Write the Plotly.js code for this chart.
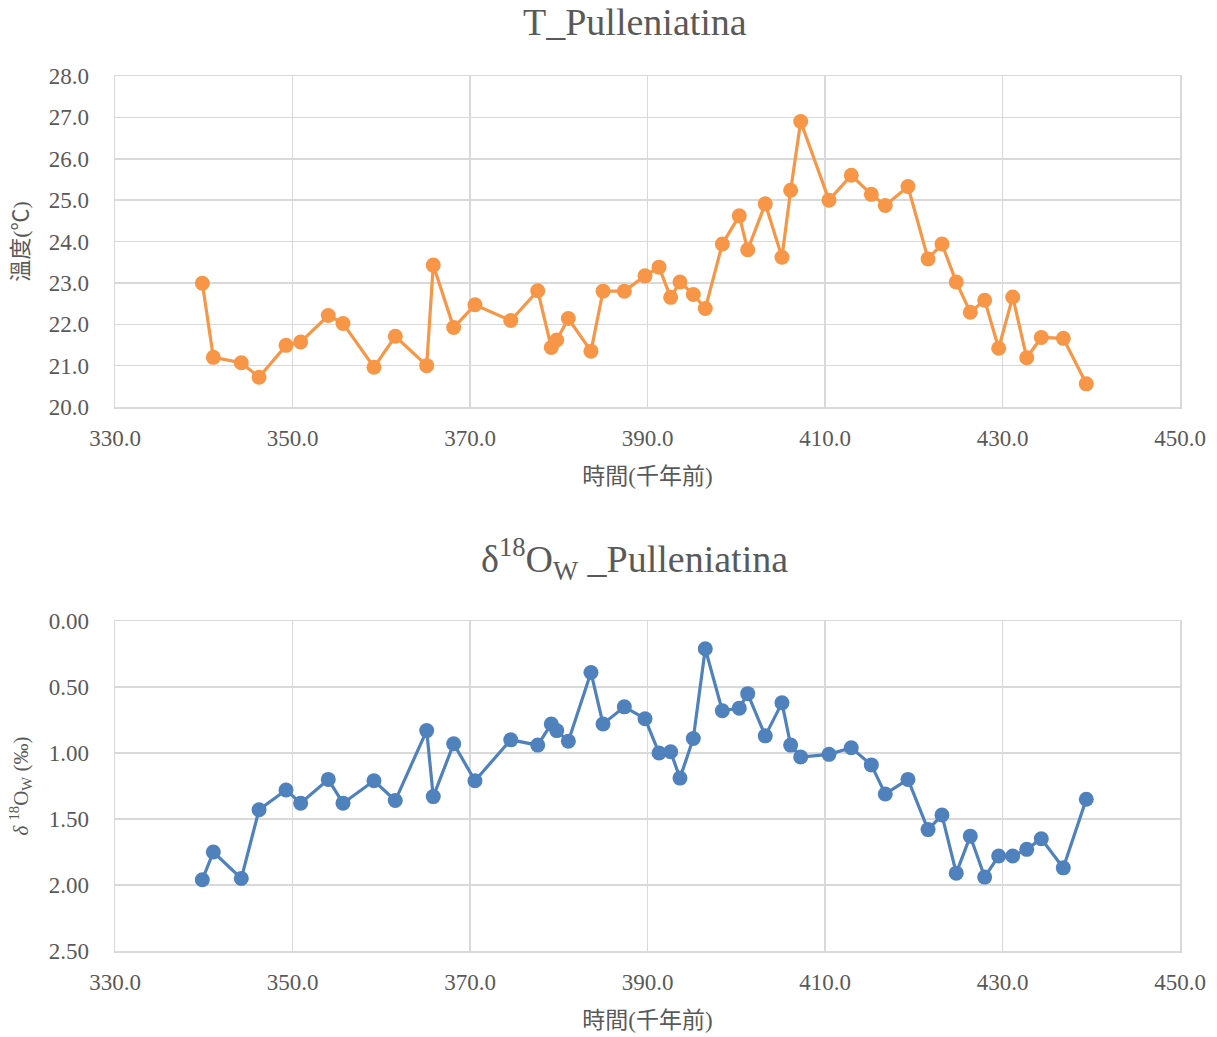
<!DOCTYPE html>
<html><head><meta charset="utf-8">
<script src="https://cdn.plot.ly/plotly-3.0.1.min.js"></script>
<style>body{margin:0;background:#fff}#chart{width:1217px;height:1037px}</style>
</head><body><div id="chart"></div>
<script>
const ageKa = [339.84,341.08,344.23,346.23,349.27,350.92,354.03,355.69,359.18,361.58,365.12,365.86,368.16,370.56,374.59,377.63,379.16,379.77,381.08,383.63,384.99,387.39,389.72,391.30,392.61,393.66,395.16,396.51,398.43,400.34,401.29,403.27,405.15,406.13,407.26,410.45,412.96,415.22,416.79,419.35,421.61,423.18,424.79,426.37,427.99,429.57,431.15,432.73,434.37,436.85,439.44];
const tempC = [22.99,21.20,21.07,20.72,21.49,21.57,22.21,22.02,20.96,21.71,21.00,23.43,21.92,22.47,22.09,22.81,21.44,21.62,22.14,21.35,22.80,22.80,23.17,23.38,22.65,23.02,22.72,22.38,23.94,24.62,23.80,24.91,23.62,25.24,26.90,25.00,25.60,25.14,24.87,25.33,23.58,23.94,23.02,22.29,22.58,21.42,22.66,21.19,21.68,21.66,20.56];
const d18Ow = [1.96,1.75,1.95,1.43,1.28,1.38,1.20,1.38,1.21,1.36,0.83,1.33,0.93,1.21,0.90,0.94,0.78,0.83,0.91,0.39,0.78,0.65,0.74,1.00,0.99,1.19,0.89,0.21,0.68,0.66,0.55,0.87,0.62,0.94,1.03,1.01,0.96,1.09,1.31,1.20,1.58,1.47,1.91,1.63,1.94,1.78,1.78,1.73,1.65,1.87,1.35];

const serif = "Liberation Serif, DejaVu Serif, serif";
const cjk = "Liberation Serif, Noto Sans CJK TC, serif";
const grey = "#595959";
const gridc = "#d9d9d9";

const traces = [
  {x: ageKa, y: tempC, xaxis:'x', yaxis:'y', mode:'lines+markers', type:'scatter',
   line:{color:'#F79646', width:3.2}, marker:{color:'#F79646', size:15}},
  {x: ageKa, y: d18Ow, xaxis:'x2', yaxis:'y2', mode:'lines+markers', type:'scatter',
   line:{color:'#4F81BD', width:3.2}, marker:{color:'#4F81BD', size:15}}
];

const xbase = {range:[330,450], dtick:20, tick0:330, tickformat:'.1f', showgrid:true, gridcolor:gridc, gridwidth:1.5,
  showline:true, linecolor:gridc, linewidth:1.5, mirror:true, zeroline:false, ticks:'', ticklabelstandoff:10,
  tickfont:{family:serif, size:23, color:grey}};
const ybase = {showgrid:true, gridcolor:gridc, gridwidth:1.5,
  showline:true, linecolor:gridc, linewidth:1.5, mirror:true, zeroline:false, ticks:'', ticklabelstandoff:20,
  tickfont:{family:serif, size:23, color:grey}};

const layout = {
  width:1217, height:1037, showlegend:false, paper_bgcolor:'#fff', plot_bgcolor:'#fff',
  margin:{l:115, r:37, t:76, b:86},
  xaxis: Object.assign({}, xbase, {domain:[0,1], anchor:'y',
    title:{text:'時間(千年前)', font:{family:cjk, size:23, color:grey}, standoff:18}}),
  yaxis: Object.assign({}, ybase, {domain:[0.6217,1], anchor:'x', range:[20,28], dtick:1, tickformat:'.1f',
    title:{text:'溫度(℃)', font:{family:cjk, size:22, color:grey}, standoff:14}}),
  xaxis2: Object.assign({}, xbase, {domain:[0,1], anchor:'y2',
    title:{text:'時間(千年前)', font:{family:cjk, size:23, color:grey}, standoff:18}}),
  yaxis2: Object.assign({}, ybase, {domain:[0,0.3771], anchor:'x2', range:[2.5,0], dtick:0.5, tickformat:'.2f',
    title:{text:'<i>δ</i> <sup>18</sup>O<sub>W</sub> (‰)', font:{family:serif, size:21, color:grey}, standoff:14}}),
  annotations:[
    {text:'T_Pulleniatina', xref:'paper', yref:'paper', x:0.5, y:1, xshift:-13, yshift:54, xanchor:'center', yanchor:'middle', showarrow:false,
     font:{family:serif, size:38, color:grey}},
    {text:'δ<sup>18</sup>O<sub>W</sub> _Pulleniatina', xref:'paper', yref:'paper', x:0.5, y:0.3771, xshift:-13, yshift:62, xanchor:'center', yanchor:'middle', showarrow:false,
     font:{family:serif, size:38, color:grey}}
  ]
};

Plotly.newPlot('chart', traces, layout, {displayModeBar:false, staticPlot:true});
</script></body></html>
